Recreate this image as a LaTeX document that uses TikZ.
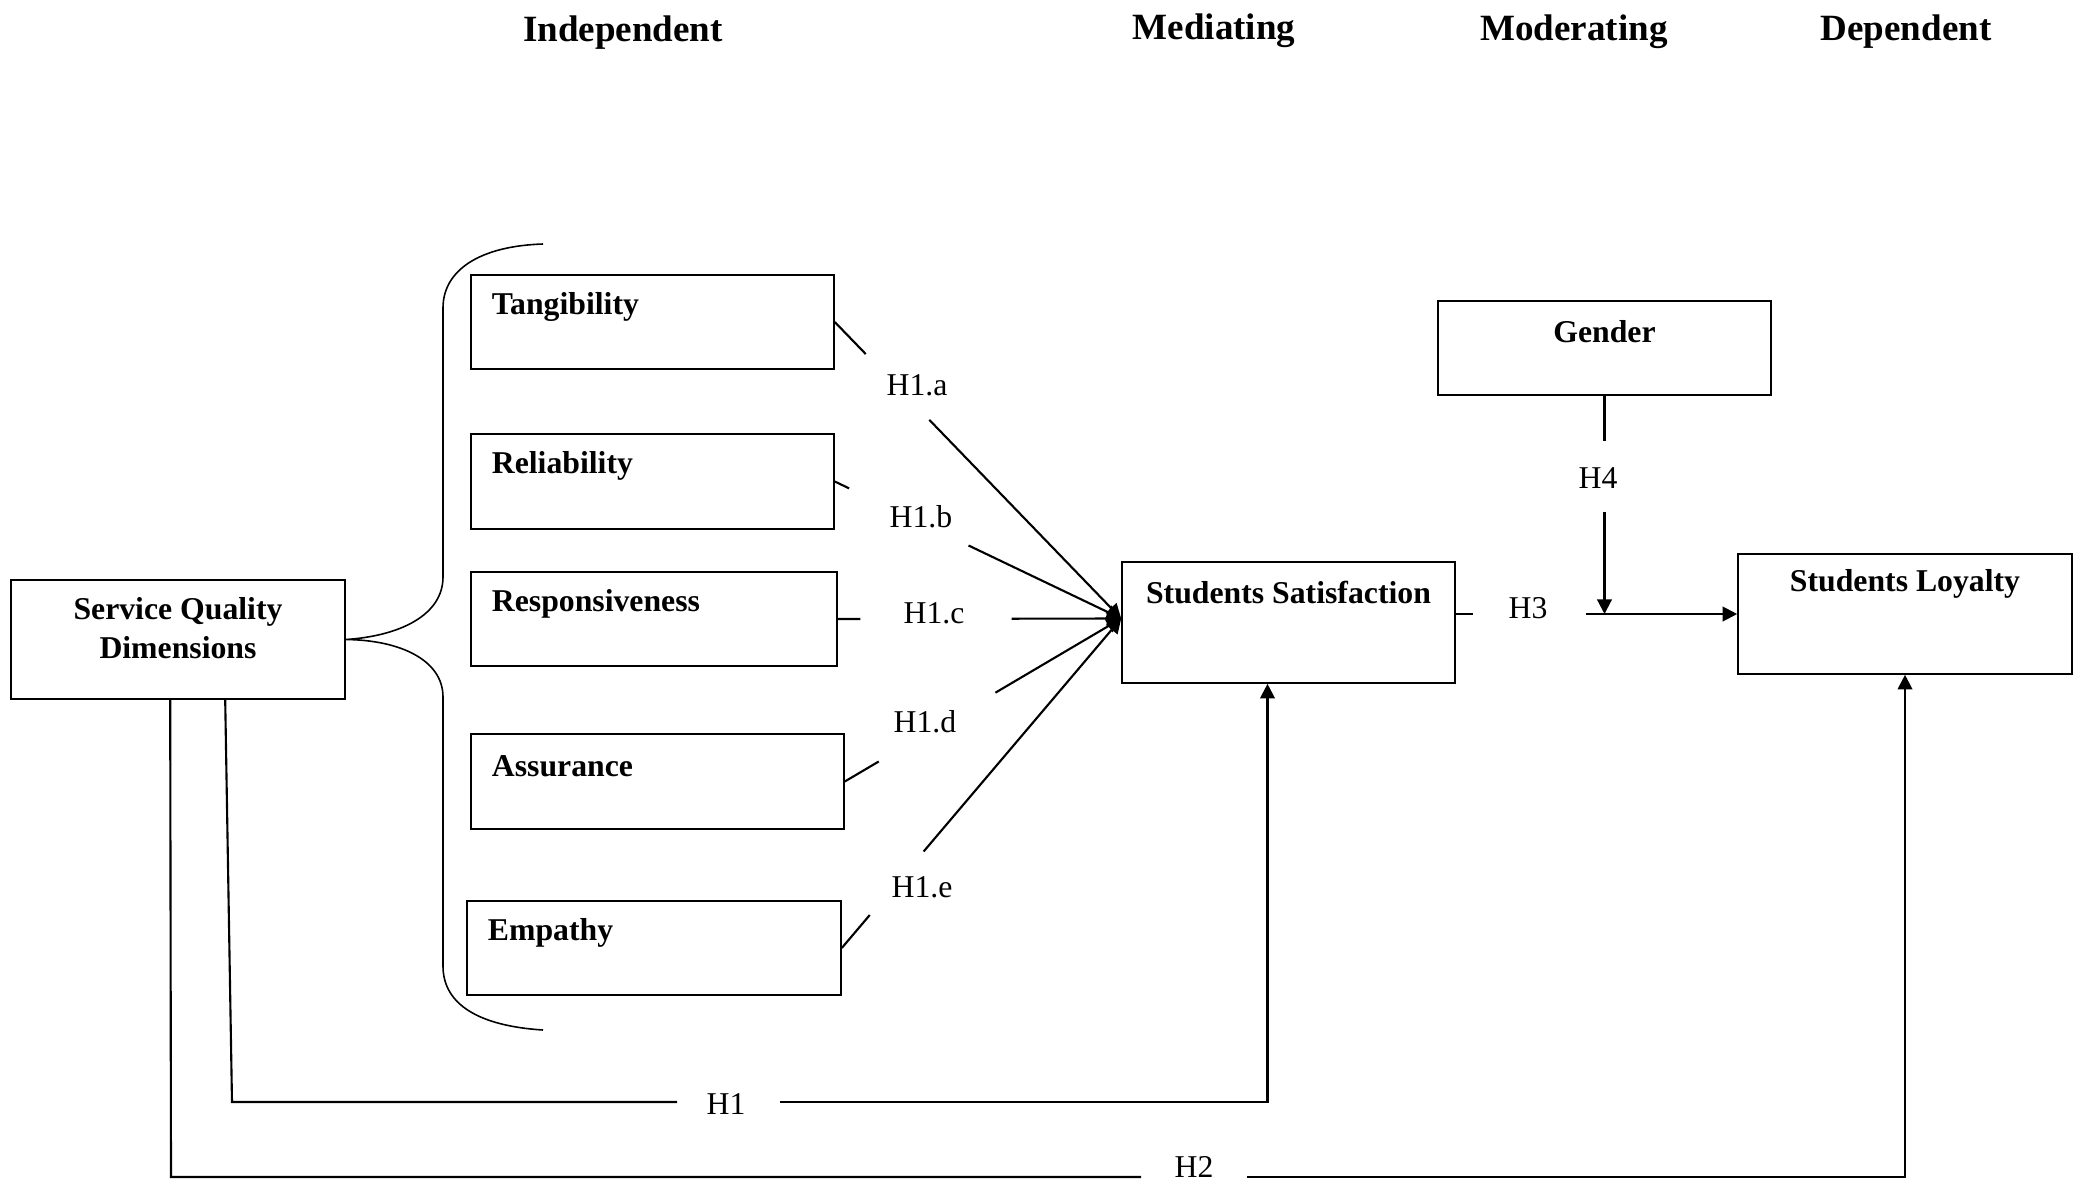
\documentclass[tikz,border=0pt]{standalone}
\usepackage{fontspec}
\setmainfont{Liberation Serif}
\usetikzlibrary{arrows.meta,calc}

\begin{document}
\begin{tikzpicture}[x=0.378pt,y=0.378pt,yscale=-1,xscale=1,
  font=\fontsize{12}{14.4}\selectfont,
  box/.style 2 args={draw, line width=0.6pt, inner sep=0pt, minimum width=#1*0.378pt, minimum height=#2*0.378pt},
  dimtxt/.style={font=\fontsize{12}{14.4}\selectfont\bfseries, inner sep=0pt, anchor=west, xshift=8pt, yshift=-12.4pt},
  toptxt/.style={font=\fontsize{12}{14.4}\selectfont\bfseries, inner sep=0pt, anchor=center, yshift=-11.7pt},
  headtxt/.style={font=\fontsize{14}{16.8}\selectfont\bfseries},
  hyp/.style={line width=0.8pt},
  hyparrow/.style={line width=0.8pt, -{Triangle[length=5.5pt,width=5.5pt]}}]
%set diagram left start at 0, and has height of 1184
\path[use as bounding box] (0,0) rectangle (2080,1184);

% Text Node
\node[headtxt] (indep) at (623,33) {Independent};
% Text Node
\node[headtxt] (medi) at (1214,31) {Mediating};
% Text Node
\node[headtxt] (moder) at (1574,32) {Moderating};
% Text Node
\node[headtxt] (depen) at (1906,32) {Dependent};

%Shape: Rectangle
\node[box={334}{119}, label={[font=\fontsize{12}{14.4}\selectfont\bfseries, align=center, inner sep=0pt, yshift=4.3pt]center:Service Quality\\Dimensions}] (sqd) at (178,639.5) {};
%Shape: Rectangle
\node[box={363}{94}, label={[dimtxt]north west:Tangibility}] (tang) at (652.5,322) {};
%Shape: Rectangle
\node[box={363}{95}, label={[dimtxt]north west:Reliability}] (reli) at (652.5,481.5) {};
%Shape: Rectangle
\node[box={366}{94}, label={[dimtxt]north west:Responsiveness}] (resp) at (654,619) {};
%Shape: Rectangle
\node[box={373}{95}, label={[dimtxt]north west:Assurance}] (assu) at (657.5,781.5) {};
%Shape: Rectangle
\node[box={374}{94}, label={[dimtxt]north west:Empathy}] (empa) at (654,948) {};
%Shape: Rectangle
\node[box={333}{121}, label={[toptxt]north:Students Satisfaction}] (ssat) at (1288.5,622.5) {};
%Shape: Rectangle
\node[box={333}{94}, label={[toptxt]north:Gender}] (gend) at (1604.5,348) {};
%Shape: Rectangle
\node[box={334}{120}, label={[toptxt]north:Students Loyalty}] (sloy) at (1905,614) {};

%Brace
\draw[line width=0.6pt] (543,244) .. controls (480,246) and (443,270) .. (443,308) -- (443,577) .. controls (443,615) and (400,636) .. (sqd.east) .. controls (400,640) and (443,660) .. (443,697) -- (443,966) .. controls (443,1005) and (480,1026) .. (543,1030);

\coordinate (conv) at ($(ssat.west)+(0,-4)$);

%Straight Lines
\draw[hyp] (tang.east) -- ($(tang.east)!0.108!(conv)$);
\draw[hyparrow] ($(tang.east)!0.33!(conv)$) -- (conv);
%Straight Lines
\draw[hyp] (reli.east) -- ($(reli.east)!0.05!(conv)$);
\draw[hyparrow] ($(reli.east)!0.467!(conv)$) -- (conv);
%Straight Lines
\draw[hyp] (resp.east) -- ($(resp.east)!0.08!(conv)$);
\draw[hyparrow] ($(resp.east)!0.613!(conv)$) -- (conv);
%Straight Lines
\draw[hyp] (assu.east) -- ($(assu.east)!0.123!(conv)$);
\draw[hyparrow] ($(assu.east)!0.545!(conv)$) -- (conv);
%Straight Lines
\draw[hyp] (empa.east) -- ($(empa.east)!0.1!(conv)$);
\draw[hyparrow] ($(empa.east)!0.293!(conv)$) -- (conv);

% Text Node
\node (h1a) at (917,385) {H1.a};
% Text Node
\node (h1b) at (921,517) {H1.b};
% Text Node
\node (h1c) at (934,613) {H1.c};
% Text Node
\node (h1d) at (925,722) {H1.d};
% Text Node
\node (h1e) at (922,887) {H1.e};

%Straight Lines
\coordinate (h3start) at (ssat.east |- sloy.west);
\draw[hyp] (h3start) -- ++(17,0);
\draw[hyparrow] ($(h3start)+(130,0)$) -- (sloy.west);
% Text Node
\node (h3) at (1528,608) {H3};

%Straight Lines
\coordinate (moder) at (gend.south |- sloy.west);
\draw[hyp] (gend.south) -- ++(0,45);
\draw[hyparrow] ($(gend.south)+(0,116)$) -- (moder);
% Text Node
\node (h4) at (1598,478) {H4};

%Straight Lines
\coordinate (h1bend) at (232,1102);
\draw[hyp] ($(sqd.south west)+(215,0)$) -- (h1bend) -- (677,1102);
\draw[hyparrow] (780,1102) -| ($(ssat.south)+(-21,0)$);
% Text Node
\node (h1) at (726,1104) {H1};

%Straight Lines
\coordinate (h2bend) at (171,1177);
\draw[hyp] ($(sqd.south west)+(160,0)$) -- (h2bend) -- (1141,1177);
\draw[hyparrow] (1247,1177) -| (sloy.south);
% Text Node
\node[inner sep=1pt] (h2) at (1194,1167) {H2};

\end{tikzpicture}
\end{document}
